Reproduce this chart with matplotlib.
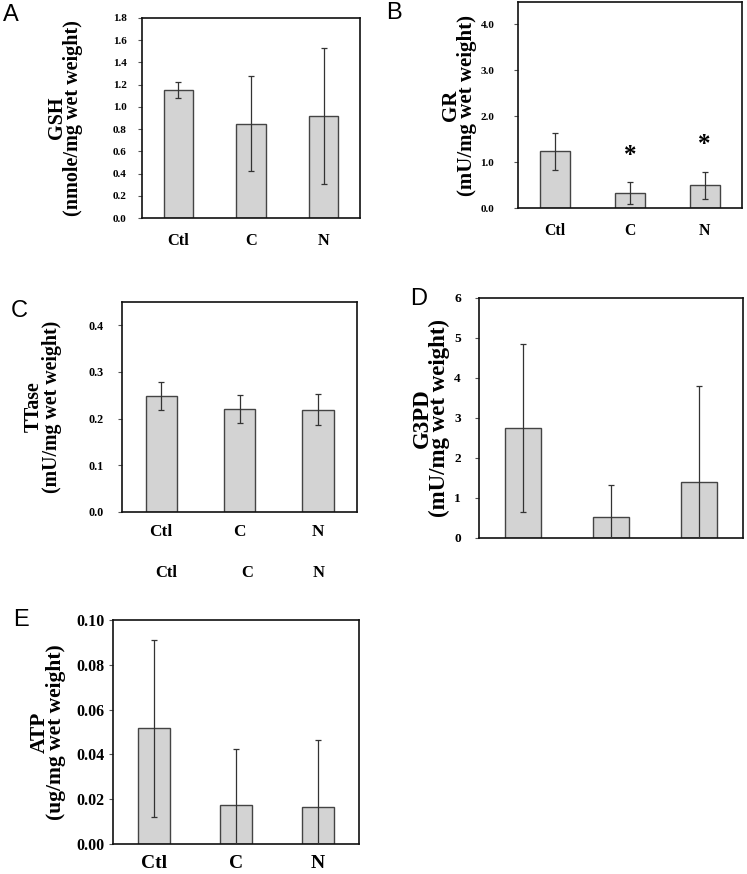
import matplotlib
matplotlib.use("Agg")
import matplotlib.pyplot as plt
import numpy as np

groups = ['Ctl', 'C', 'N']

# panel A - GSH
gsh_mean = [1.15, 0.85, 0.92]
gsh_err = [0.07, 0.43, 0.61]
# panel B - GR
gr_mean = [1.23, 0.33, 0.49]
gr_err = [0.41, 0.24, 0.29]
gr_star = [None, 1.14, 1.38]
# panel C - TTase
ttase_mean = [0.248, 0.220, 0.219]
ttase_err = [0.030, 0.030, 0.033]
# panel D - G3PD
g3pd_mean = [2.75, 0.53, 1.39]
g3pd_err = [2.11, 0.80, 2.41]
# panel E - ATP
atp_mean = [0.0516, 0.0175, 0.0166]
atp_err = [0.0396, 0.025, 0.030]

serif = 'Liberation Serif'
W, H = 747, 874

fig = plt.figure(figsize=(W / 100, H / 100), dpi=100)


def px_axes(left, top, right, bottom):
    return fig.add_axes([left / W, 1 - bottom / H, (right - left) / W, (bottom - top) / H])


def panel(ax, mean, err, ymax, ticks, fmt, ylab, lab_x, lab_size, lab_gap,
          tick_size, tick_pad, x_size=11.5, x_pad=10, xlabels=True):
    x = np.arange(len(groups))
    ax.bar(x, mean, width=0.4, color='#d3d3d3', edgecolor='#444444', linewidth=1.0, zorder=2)
    ax.errorbar(x, mean, yerr=err, fmt='none', ecolor='#333333', elinewidth=0.9,
                capsize=2.5, capthick=0.9, zorder=3)
    ax.set_xlim(-0.5, 2.5)
    ax.set_ylim(0, ymax)
    ax.set_yticks(ticks)
    ax.set_yticklabels([fmt.format(t) for t in ticks], fontfamily=serif,
                       fontweight='bold', fontsize=tick_size)
    ax.tick_params(axis='y', length=3, width=0.8, color='#555555', pad=tick_pad)
    ax.set_xticks(x)
    if xlabels:
        ax.set_xticklabels(groups, fontfamily=serif, fontweight='bold', fontsize=x_size)
        ax.tick_params(axis='x', length=0, pad=x_pad)
    else:
        ax.set_xticklabels([])
        ax.tick_params(axis='x', length=0)
    for s in ax.spines.values():
        s.set_linewidth(1.2)
        s.set_color('#111111')
    # y label drawn centred at a given x (in axes fraction)
    ax.text(lab_x, 0.5, ylab, transform=ax.transAxes, rotation=90, ha='center', va='center',
            fontfamily=serif, fontweight='bold', fontsize=lab_size, linespacing=lab_gap)


# A
axA = px_axes(142, 18, 360, 218)
panel(axA, gsh_mean, gsh_err, 1.8, np.arange(0, 1.81, 0.2), '{:.1f}',
      'GSH\n(nmole/mg wet weight)', (65 - 142) / 218, 14.5, 0.75,
      tick_size=8, tick_pad=8, x_size=11.8, x_pad=11)

# B
axB = px_axes(518, 2, 742, 208)
panel(axB, gr_mean, gr_err, 4.48, np.arange(0, 4.01, 1.0), '{:.1f}',
      'GR\n(mU/mg wet weight)', (459 - 518) / 224, 15, 0.75,
      tick_size=8, tick_pad=14, x_size=11.3, x_pad=11)
for i, s in enumerate(gr_star):
    if s is not None:
        axB.text(i, s, '*', ha='center', va='center', fontfamily=serif,
                 fontweight='bold', fontsize=18)

# C
axC = px_axes(122, 302, 357, 512)
panel(axC, ttase_mean, ttase_err, 0.45, np.arange(0, 0.41, 0.1), '{:.1f}',
      'TTase\n(mU/mg wet weight)', (43 - 122) / 235, 14.3, 0.9,
      tick_size=8.7, tick_pad=10, x_size=12.4, x_pad=9)
for i, (g, dx) in enumerate(zip(groups, [0.06, 0.1, 0.01])):
    axC.text(i + dx, -0.29, g, transform=axC.get_xaxis_transform(), ha='center',
             va='center', fontfamily=serif, fontweight='bold', fontsize=12)

# D
axD = px_axes(479, 298, 743, 538)
panel(axD, g3pd_mean, g3pd_err, 6, np.arange(0, 7, 1), '{:.0f}',
      'G3PD\n(mU/mg wet weight)', (431 - 479) / 264, 16.5, 0.78,
      tick_size=9.6, tick_pad=10, xlabels=False)

# E
axE = px_axes(113, 620, 359, 844)
panel(axE, atp_mean, atp_err, 0.10, np.arange(0, 0.101, 0.02), '{:.2f}',
      'ATP\n(ug/mg wet weight)', (48 - 113) / 246, 15.5, 0.8,
      tick_size=11.5, tick_pad=3, x_size=14, x_pad=8)

# panel letters
for lab, lx, ly in [('A', 3, 4), ('B', 386, 2), ('C', 11, 300), ('D', 410, 288), ('E', 13, 609)]:
    fig.text(lx / W, 1 - ly / H, lab, ha='left', va='top', fontfamily='Liberation Sans',
             fontsize=17)

fig.savefig('out.png', dpi=100)
